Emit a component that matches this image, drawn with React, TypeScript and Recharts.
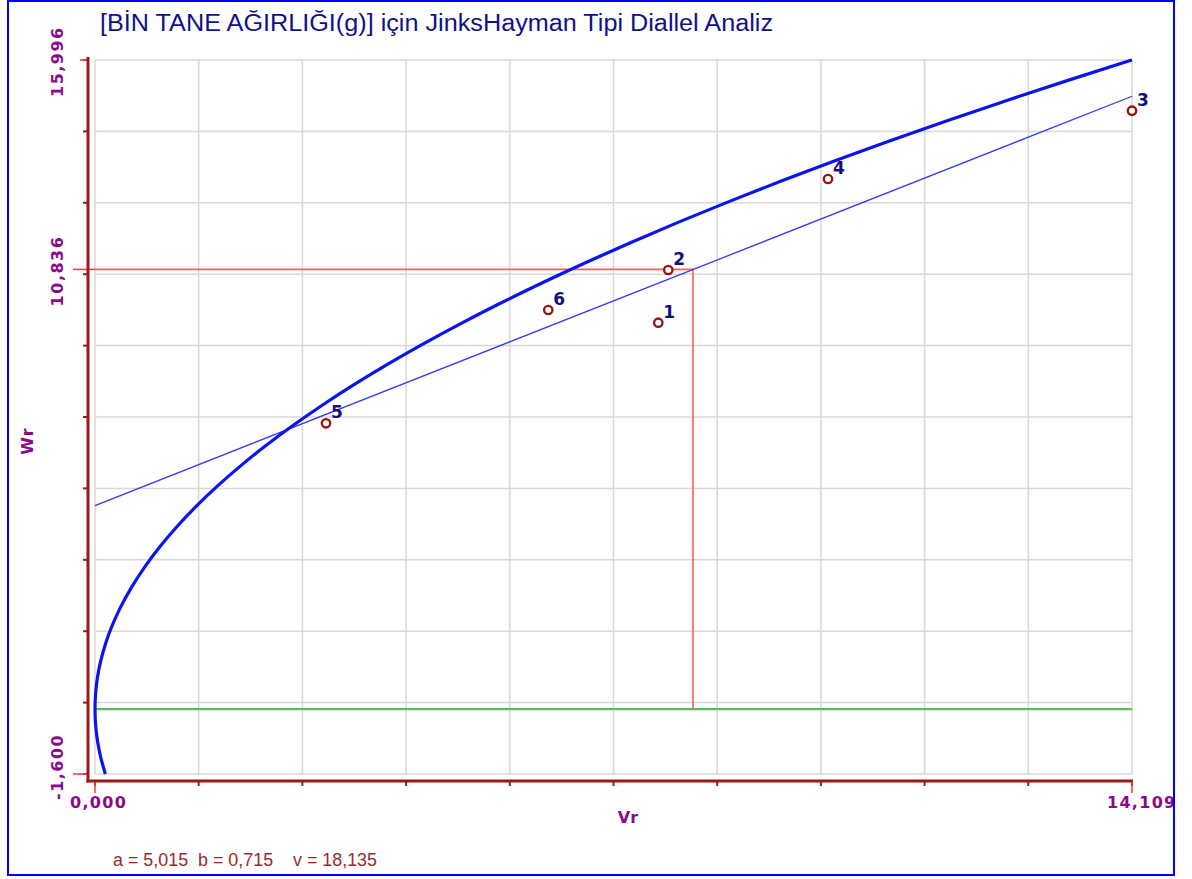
import React from 'react';
import { ComposedChart, Line, Scatter, XAxis, YAxis, CartesianGrid, ReferenceLine } from 'recharts';

// ---- data ----
const genotypes = ['1', '2', '3', '4', '5', '6'];
const vrValues = [7.664, 7.8, 14.109, 9.973, 3.143, 6.167];
const wrValues = [9.522, 10.821, 14.747, 13.063, 7.043, 9.835];

const regressionVr = [0, 14.109];
const regressionWr = [5.015, 15.103];

const parabolaVr = [0.14116, 0.0794, 0.03529, 0.00882, 0, 0.00882, 0.03529, 0.0794, 0.14116, 0.22057, 0.34464, 0.49628, 0.67549, 0.88227, 1.11663, 1.37855, 1.66804, 1.98511, 2.32975, 2.70196, 3.10174, 3.5291, 3.98401, 4.4665, 4.97656, 5.5142, 6.0794, 6.67218, 7.29253, 7.94045, 8.61594, 9.319, 10.04963, 10.80783, 11.5936, 12.40695, 13.24786, 14.109];
const parabolaWr = [-1.6, -1.2, -0.8, -0.4, 0, 0.4, 0.8, 1.2, 1.6, 2.0, 2.5, 3.0, 3.5, 4.0, 4.5, 5.0, 5.5, 6.0, 6.5, 7.0, 7.5, 8.0, 8.5, 9.0, 9.5, 10.0, 10.5, 11.0, 11.5, 12.0, 12.5, 13.0, 13.5, 14.0, 14.5, 15.0, 15.5, 15.996];

const guideVr = [0, 8.136, 8.136];
const guideWr = [10.836, 10.836, 0];

const xDomain = [0, 14.109];
const yDomain = [-1.6, 15.996];
const xGridTicks = [0, 1.4109, 2.8218, 4.2327, 5.6436, 7.0545, 8.4654, 9.8763, 11.2872, 12.6981, 14.109];
const yGridTicks = [-1.6, 0.1596, 1.9192, 3.6788, 5.4384, 7.198, 8.9576, 10.7172, 12.4768, 14.2364, 15.996];
const xLabelTicks = [0, 14.109];
const yLabelTicks = [-1.6, 10.836, 15.996];

const titleText = '[BİN TANE AĞIRLIĞI(g)] için JinksHayman Tipi Diallel Analiz';
const footerText = 'a = 5,015  b = 0,715    v = 18,135';

// ---- derived tables ----
const points = genotypes.map((g, i) => ({ id: g, vr: vrValues[i], wr: wrValues[i] }));
const regression = regressionVr.map((v, i) => ({ vr: v, wr: regressionWr[i] }));
const parabola = parabolaVr.map((v, i) => ({ vr: v, wr: parabolaWr[i] }));
const guide = guideVr.map((v, i) => ({ vr: v, wr: guideWr[i] }));

const fmt = (v: number) => v.toFixed(3).replace('.', ',');

const PURPLE = '#8a0a8a';
const AXIS = '#9a1a1a';
const TICKRED = '#ff3a3a';
const LABELFONT = '"DejaVu Sans", Verdana, sans-serif';

const YGridTick = (props: any) => {
  const { y } = props;
  return <line x1={83} x2={88} y1={y} y2={y} stroke={AXIS} strokeWidth={2} />;
};

const XGridTick = (props: any) => {
  const { x } = props;
  return <line x1={x} x2={x} y1={781} y2={786} stroke={AXIS} strokeWidth={2} />;
};

const YLabelTick = (props: any) => {
  const { y, payload } = props;
  const v = payload.value;
  const isMin = Math.abs(v - yDomain[0]) < 1e-6;
  const isMax = Math.abs(v - yDomain[1]) < 1e-6;
  const off = isMin ? 26 : 37;
  const x2 = !isMin && !isMax ? 95 : 88;
  const x1 = isMax ? 80 : 73;
  return (
    <g>
      <line x1={x1} x2={x2} y1={y} y2={y} stroke={TICKRED} strokeWidth={1.5} />
      <text
        x={63}
        y={y + off}
        transform={`rotate(-90, 63, ${y + off})`}
        textAnchor="start"
        fill={PURPLE}
        fontFamily={LABELFONT}
        fontWeight="bold"
        fontSize={16}
        letterSpacing={1.5}
      >
        {fmt(v)}
      </text>
    </g>
  );
};

const XLabelTick = (props: any) => {
  const { x, payload } = props;
  return (
    <g>
      <line x1={x} x2={x} y1={781} y2={793} stroke={TICKRED} strokeWidth={1.5} />
      <text
        x={x - 25}
        y={808}
        textAnchor="start"
        fill={PURPLE}
        fontFamily={LABELFONT}
        fontWeight="bold"
        fontSize={16}
        letterSpacing={1.3}
      >
        {fmt(payload.value)}
      </text>
    </g>
  );
};

const PointShape = (props: any) => {
  const { cx, cy, payload } = props;
  if (cx == null || cy == null) return null;
  return (
    <g>
      <circle cx={cx} cy={cy} r={4.2} fill="#ffffff" stroke="#9a0f0f" strokeWidth={2.3} />
      <text
        x={cx + 5}
        y={cy - 5}
        fill="#101080"
        fontFamily={LABELFONT}
        fontWeight="bold"
        fontSize={17}
      >
        {payload.id}
      </text>
    </g>
  );
};

export default function App() {
  return (
    <div style={{ position: 'absolute', left: 0, top: 0, width: 1192, height: 879, background: '#ffffff' }}>
      <div
        style={{
          position: 'absolute',
          left: 7,
          top: 0,
          width: 1168,
          height: 876,
          border: '2px solid #0000ff',
          boxSizing: 'border-box',
          overflow: 'hidden',
          background: '#ffffff',
        }}
      >
        <div style={{ position: 'absolute', left: -9, top: -2, width: 1192, height: 879 }}>
          <ComposedChart width={1192} height={879} margin={{ top: 60, right: 60, bottom: 103, left: 93 }}>
            <CartesianGrid stroke="#d8d8d8" strokeWidth={1.5} />
            <XAxis
              type="number"
              dataKey="vr"
              domain={xDomain}
              ticks={xGridTicks}
              interval={0}
              height={1}
              axisLine={false}
              tickLine={false}
              tick={XGridTick}
            />
            <XAxis
              xAxisId="lab"
              type="number"
              dataKey="vr"
              domain={xDomain}
              ticks={xLabelTicks}
              interval={0}
              height={1}
              axisLine={false}
              tickLine={false}
              tick={XLabelTick}
            />
            <YAxis
              type="number"
              dataKey="wr"
              domain={yDomain}
              ticks={yGridTicks}
              interval={0}
              width={1}
              axisLine={false}
              tickLine={false}
              tick={YGridTick}
            />
            <YAxis
              yAxisId="lab"
              type="number"
              dataKey="wr"
              domain={yDomain}
              ticks={yLabelTicks}
              interval={0}
              width={1}
              axisLine={false}
              tickLine={false}
              tick={YLabelTick}
            />
            <ReferenceLine y={0} stroke="#5cb85c" strokeWidth={2.2} />
            <Line
              xAxisId="lab"
              yAxisId="lab"
              data={guide}
              dataKey="wr"
              type="linear"
              stroke="#ff5c5c"
              strokeWidth={1.6}
              dot={false}
              activeDot={false}
              isAnimationActive={false}
            />
            <Line
              data={regression}
              dataKey="wr"
              type="linear"
              stroke="#3535ff"
              strokeWidth={1.3}
              dot={false}
              activeDot={false}
              isAnimationActive={false}
            />
            <Line
              data={parabola}
              dataKey="wr"
              type="natural"
              stroke="#0a14f0"
              strokeWidth={3.2}
              dot={false}
              activeDot={false}
              isAnimationActive={false}
            />
            <Scatter data={points} dataKey="wr" shape={PointShape} isAnimationActive={false} />
          </ComposedChart>
        </div>
        <svg
          width={1192}
          height={879}
          style={{ position: 'absolute', left: -9, top: -2, pointerEvents: 'none' }}
        >
          <text
            x={100}
            y={31}
            fill="#10108a"
            fontFamily='"Liberation Sans", Arial, sans-serif'
            fontSize={23}
            textLength={673}
            lengthAdjust="spacingAndGlyphs"
          >
            {titleText}
          </text>
          <line x1={88} x2={88} y1={57} y2={782.5} stroke={AXIS} strokeWidth={3} />
          <line x1={86.5} x2={1133} y1={781} y2={781} stroke={AXIS} strokeWidth={3} />
          <text
            x={33}
            y={441}
            transform="rotate(-90, 33, 441)"
            textAnchor="middle"
            fill={PURPLE}
            fontFamily={LABELFONT}
            fontWeight="bold"
            fontSize={16}
            letterSpacing={1}
          >
            Wr
          </text>
          <text
            x={628}
            y={823}
            textAnchor="middle"
            fill={PURPLE}
            fontFamily={LABELFONT}
            fontWeight="bold"
            fontSize={16}
          >
            Vr
          </text>
          <text
            x={113}
            y={866}
            fill="#9b2a2a"
            fontFamily='"Liberation Sans", Arial, sans-serif'
            fontSize={17.5}
            textLength={264}
            lengthAdjust="spacingAndGlyphs"
            style={{ whiteSpace: 'pre' }}
          >
            {footerText}
          </text>
        </svg>
      </div>
    </div>
  );
}
